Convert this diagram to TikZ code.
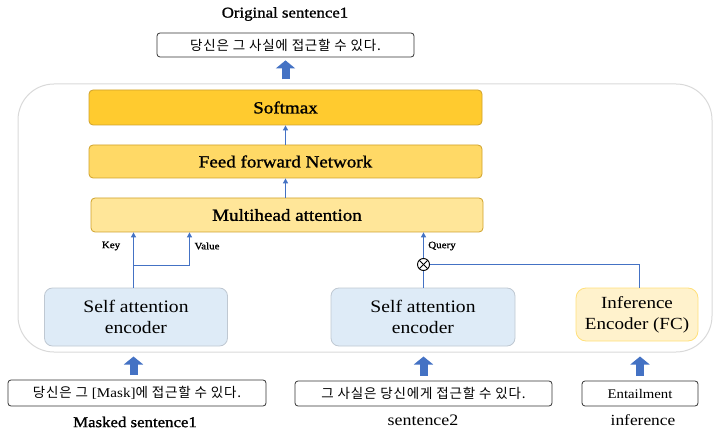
\documentclass[tikz,border=0pt]{standalone}
\usepackage{fontspec}
\setmainfont{Liberation Serif}[FakeStretch=1.12]
\newfontfamily\semib{Liberation Serif}[FakeStretch=1.12, FakeBold=1.2]
\newfontfamily\kr{Noto Sans CJK KR}[LetterSpace=6]
\usetikzlibrary{arrows.meta}
\definecolor{softc}{HTML}{FFCB2F}
\definecolor{ffnc}{HTML}{FFD966}
\definecolor{mhac}{HTML}{FFE699}
\definecolor{goldb}{HTML}{CFA12A}
\definecolor{saec}{HTML}{DEEBF7}
\definecolor{saeb}{HTML}{BFC8D2}
\definecolor{infc}{HTML}{FFF2CC}
\definecolor{infb}{HTML}{FFE07A}
\definecolor{arrc}{HTML}{4472C4}
\definecolor{contb}{HTML}{D9D9D9}
\tikzset{
  ybox/.style={draw=goldb, line width=0.8pt, rounded corners=4pt, minimum width=393pt, font=\semib\fontsize{17}{18}\selectfont, inner sep=0pt},
  saebox/.style={draw=saeb, fill=saec, line width=0.8pt, rounded corners=8pt, minimum width=183pt, minimum height=58pt, align=center, font=\fontsize{17.5}{21}\selectfont, inner sep=0pt},
  txtbox/.style={draw=black!80, line width=0.8pt, rounded corners=3pt, inner sep=0pt},
  lbl/.style={font=\fontsize{15}{17}\selectfont, inner sep=0pt},
  small/.style={font=\semib\fontsize{9.8}{11}\selectfont, inner sep=0pt},
  thinarr/.style={draw=arrc, line width=1pt, -{Triangle[length=5pt,width=5pt]}},
  thinln/.style={draw=arrc, line width=1pt},
  blk/.style={draw=arrc, line width=8pt, -{Triangle[length=8pt,width=19pt]}}
}
\begin{document}
\begin{tikzpicture}[x=1pt,y=-1pt]
\useasboundingbox (0,0) rectangle (717,430);
% container
\node[draw=contb, line width=1pt, rounded corners=36pt, minimum width=694pt, minimum height=268pt, inner sep=0pt] (cont) at (365,218) {};
% top
\node[lbl, font=\semib\fontsize{15}{17}\selectfont] (orig) at (285,14) {Original sentence1};
\node[txtbox, minimum width=257pt, minimum height=24pt, font=\kr\fontsize{13.5}{15}\selectfont] (top) at (285.5,45) {당신은 그 사실에 접근할 수 있다.};
% stack
\node[ybox, fill=softc, minimum height=35pt] (soft) at (285.5,107.5) {Softmax};
\node[ybox, fill=ffnc, minimum height=33pt] (ffn) at (285.5,161.5) {Feed forward Network};
\node[ybox, fill=mhac, minimum height=34pt, minimum width=392pt] (mha) at (287,215) {Multihead attention};
% encoders
\node[saebox] (sae1) at (136,317) {Self attention\\encoder};
\node[saebox, minimum width=184pt] (sae2) at (423,317) {Self attention\\encoder};
\node[draw=infb, fill=infc, line width=0.8pt, rounded corners=10pt, minimum width=122pt, minimum height=53pt, align=center, font=\fontsize{17}{21}\selectfont, inner sep=0pt] (inf) at (637,314.5) {Inference\\Encoder (FC)};
% inputs
\node[txtbox, minimum width=258pt, minimum height=26pt, font=\kr\fontsize{13.5}{15}\selectfont] (m1) at (137,393) {당신은 그 {\rmfamily\fontsize{13.5}{15}\selectfont [Mask]}에 접근할 수 있다.};
\node[txtbox, minimum width=257pt, minimum height=25pt, font=\kr\fontsize{13.5}{15}\selectfont] (s2) at (423.5,393.5) {그 사실은 당신에게 접근할 수 있다.};
\node[txtbox, minimum width=116pt, minimum height=25pt, font=\fontsize{13.2}{15}\selectfont] (ent) at (640,393.5) {Entailment};
\node[lbl, font=\semib\fontsize{15}{17}\selectfont] (mlab) at (135,422) {Masked sentence1};
\node[lbl, font=\fontsize{16}{18}\selectfont] (slab) at (423,420) {sentence2};
\node[lbl, font=\fontsize{15.5}{18}\selectfont] (ilab) at (643,420) {inference};
% small labels
\node[small] (key) at (111,246) {Key};
\node[small] (val) at (207,246) {Value};
\node[small] (qry) at (442,246) {Query};
% otimes
\node[circle, draw=black, line width=0.9pt, minimum size=12pt, inner sep=0pt, fill=white,
  path picture={\draw[line width=0.9pt] (path picture bounding box.north west) -- (path picture bounding box.south east);
                \draw[line width=0.9pt] (path picture bounding box.north east) -- (path picture bounding box.south west);}] (ot) at (423.5,264.5) {};
% coordinates
\coordinate (kx) at (133.5,265.5);
\coordinate (vx) at (189.5,265.5);
\coordinate (ic) at (639.5,264.5);
% thin connectors
\draw[thinarr] (kx |- sae1.north) -- (kx |- mha.south);
\draw[thinln] (kx) -- (vx);
\draw[thinarr] (vx) -- (vx |- mha.south);
\draw[thinln] (ot |- sae2.north) -- (ot.south);
\draw[thinarr] (ot.north) -- (ot |- mha.south);
\draw[thinln] (ot.east) -- (ic) -- (ic |- inf.north);
\draw[thinarr] (mha.north -| ffn.south) -- (ffn.south);
\draw[thinarr] (ffn.north) -- (soft.south);
% block arrows
\draw[blk, shorten <=4pt, shorten >=3pt] (cont.north -| top.south) -- (top.south);
\draw[blk, shorten <=5pt, shorten >=4pt] (m1.north -| kx) -- (kx |- cont.south);
\draw[blk, shorten <=5pt, shorten >=4pt] (s2.north) -- (s2.north |- cont.south);
\draw[blk, shorten <=5pt, shorten >=4pt] (ent.north) -- (ent.north |- cont.south);
\end{tikzpicture}
\end{document}
